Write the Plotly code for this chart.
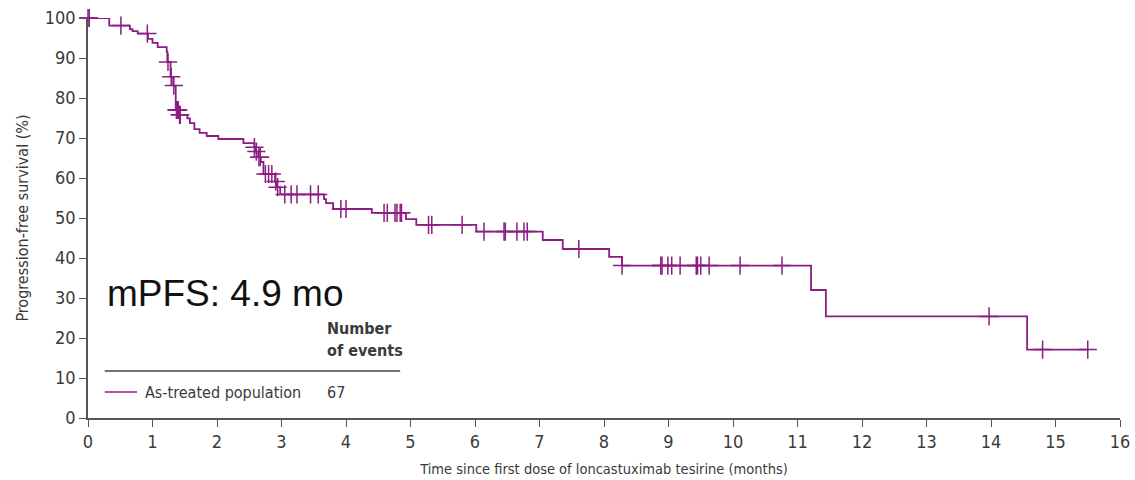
import plotly.graph_objects as go

# Kaplan-Meier step function: event times (months) and survival level after each step (%)
step_times = [0, 0.33, 0.65, 0.69, 0.77, 0.93, 1.00, 1.08, 1.22, 1.23, 1.28, 1.32, 1.36,
              1.41, 1.54, 1.58, 1.65, 1.73, 1.84, 2.02, 2.41, 2.58, 2.60, 2.64, 2.68,
              2.72, 2.90, 2.92, 2.98, 3.66, 3.69, 3.80, 4.40, 4.93, 5.09, 6.02, 7.05,
              7.36, 8.08, 8.28, 11.21, 11.44, 14.56]
step_levels = [100, 98.1, 97.2, 96.7, 96.1, 94.8, 93.8, 92.7, 91.6, 89.0, 85.3, 83.1, 77.0,
               75.8, 74.9, 73.7, 72.2, 71.3, 70.5, 69.75, 68.7, 67.7, 66.6, 65.2, 64.0,
               61.0, 59.1, 57.7, 55.9, 54.7, 53.7, 52.25, 51.3, 49.7, 48.3, 46.6, 44.5,
               42.25, 40.3, 38.1, 32.0, 25.4, 17.1]
last_followup = 15.5

# Censored observations (months)
censor_times = [0, 0.02, 0.51, 0.92, 1.24, 1.29, 1.33, 1.37, 1.38, 1.39, 1.40, 1.42, 1.43,
                2.58, 2.61, 2.65, 2.67, 2.75, 2.80, 2.85, 2.91, 2.94, 3.05, 3.15, 3.24,
                3.45, 3.57, 3.92, 4.00, 4.59, 4.64, 4.76, 4.79, 4.84, 4.86, 5.28, 5.33,
                5.80, 6.14, 6.45, 6.47, 6.65, 6.76, 6.81, 7.61, 8.28, 8.88, 8.90, 8.99,
                9.05, 9.18, 9.43, 9.45, 9.50, 9.63, 10.11, 10.76, 13.97, 14.80, 15.50]

x_ticks = list(range(0, 17))
y_ticks = list(range(0, 101, 10))

series_name = "As-treated population"
n_events = 67
median_label = "mPFS: 4.9 mo"

CURVE = "#8c1d82"
INK = "#3a3a3a"
AXIS = "#555555"
FONT = "Liberation Sans Narrow, DejaVu Sans Condensed, Arial Narrow, sans-serif"


def level_at(t):
    lvl = step_levels[0]
    for st, sl in zip(step_times, step_levels):
        if st <= t:
            lvl = sl
        else:
            break
    return lvl


curve_x = step_times + [last_followup]
curve_y = step_levels + [step_levels[-1]]
censor_y = [level_at(t) for t in censor_times]

fig = go.Figure()
fig.add_trace(go.Scatter(
    x=curve_x, y=curve_y, mode="lines", line=dict(color=CURVE, width=1.8, shape="hv"),
    showlegend=False, hoverinfo="skip", cliponaxis=False,
))
fig.add_trace(go.Scatter(
    x=censor_times, y=censor_y, mode="markers",
    marker=dict(symbol="cross-thin", size=13, line=dict(color=CURVE, width=1.5)),
    showlegend=False, cliponaxis=False,
))

fig.update_layout(
    width=1135, height=480,
    margin=dict(l=88, r=15, t=18, b=62),
    paper_bgcolor="white", plot_bgcolor="white",
    font=dict(family=FONT, color=INK, size=18),
    xaxis=dict(
        range=[0, 16], tickvals=x_ticks, ticktext=[str(v) for v in x_ticks],
        automargin=False,
        showgrid=False, zeroline=False, showline=True, linecolor=AXIS, linewidth=1.6,
        ticks="outside", ticklen=7, tickwidth=1.4, tickcolor=AXIS,
        tickfont=dict(size=18, family=FONT, color=INK),
        title=dict(text="Time since first dose of loncastuximab tesirine (months)",
                   font=dict(size=14.5, family=FONT, color=INK), standoff=12),
    ),
    yaxis=dict(
        range=[0, 100], tickvals=y_ticks, ticktext=[str(v) for v in y_ticks],
        automargin=False,
        showgrid=False, zeroline=False, showline=True, linecolor=AXIS, linewidth=1.6,
        ticks="outside", ticklen=7, tickwidth=1.4, tickcolor=AXIS,
        tickfont=dict(size=18, family=FONT, color=INK),
        title=dict(text="Progression-free survival (%)",
                   font=dict(size=16, family=FONT, color=INK), standoff=12),
    ),
)

# Median PFS callout
fig.add_annotation(x=0.26, y=31.2, xref="x", yref="y", text=median_label, showarrow=False,
                   xanchor="left", yanchor="middle",
                   font=dict(size=37, family="Liberation Sans, Arial, sans-serif", color="#111111"))

# Legend table
fig.add_annotation(x=3.67, y=22.5, xref="x", yref="y", text="<b>Number</b>", showarrow=False,
                   xanchor="left", yanchor="middle", font=dict(size=16, family=FONT, color=INK))
fig.add_annotation(x=3.67, y=16.8, xref="x", yref="y", text="<b>of events</b>", showarrow=False,
                   xanchor="left", yanchor="middle", font=dict(size=16, family=FONT, color=INK))
fig.add_shape(type="line", x0=0.26, x1=4.84, y0=11.75, y1=11.75, xref="x", yref="y",
              line=dict(color="#444444", width=1.3))
fig.add_shape(type="line", x0=0.26, x1=0.76, y0=6.5, y1=6.5, xref="x", yref="y",
              line=dict(color=CURVE, width=1.5))
fig.add_annotation(x=0.85, y=6.5, xref="x", yref="y", text=series_name, showarrow=False,
                   xanchor="left", yanchor="middle", font=dict(size=16, family=FONT, color=INK))
fig.add_annotation(x=3.67, y=6.5, xref="x", yref="y", text=str(n_events), showarrow=False,
                   xanchor="left", yanchor="middle", font=dict(size=16, family=FONT, color=INK))

fig.write_html("out.html")
